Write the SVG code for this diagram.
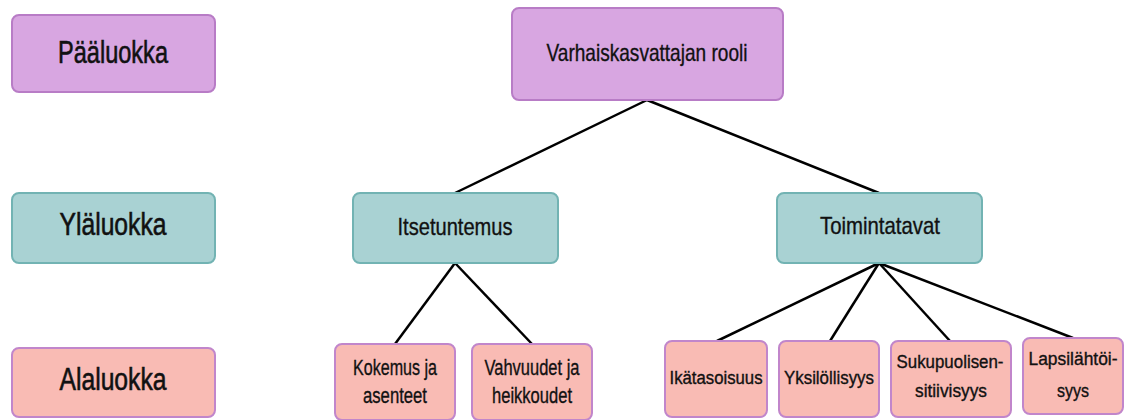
<svg xmlns="http://www.w3.org/2000/svg" width="1124" height="420" viewBox="0 0 1124 420">
<style>
.p{fill:#d8a6e1;stroke:#b87cc6;stroke-width:2}
.t{fill:#a9d2d3;stroke:#72b3b3;stroke-width:2}
.r{fill:#f9bbb4;stroke:#c186cb;stroke-width:2}
text{font-family:"Liberation Sans",Arial,sans-serif;fill:#111;stroke:#111;stroke-width:0.35;text-anchor:middle}
.l{font-size:31px;stroke-width:0.6}
.m{font-size:24px}
.s{font-size:22px}
.x{font-size:18px}
.c{stroke:#000;stroke-width:2.5;fill:none}
</style>
<rect width="1124" height="420" fill="#fff"/>
<g id="legend-paaluokka"><rect class="p" x="12" y="15" width="203" height="77" rx="7"/><text class="l" x="113" y="63" textLength="110" lengthAdjust="spacingAndGlyphs">Pääluokka</text></g>
<g id="legend-ylaluokka"><rect class="t" x="12" y="193" width="203" height="70" rx="7"/><text class="l" x="113" y="235" textLength="107" lengthAdjust="spacingAndGlyphs">Yläluokka</text></g>
<g id="legend-alaluokka"><rect class="r" x="12" y="348" width="203" height="69" rx="7"/><text class="l" x="113" y="390" textLength="107" lengthAdjust="spacingAndGlyphs">Alaluokka</text></g>
<g id="connectors">
<line class="c" x1="647" y1="100" x2="455" y2="193"/>
<line class="c" x1="647" y1="100" x2="879" y2="193"/>
<line class="c" x1="455" y1="263" x2="395" y2="344"/>
<line class="c" x1="455" y1="263" x2="532" y2="344"/>
<line class="c" x1="879" y1="263" x2="717" y2="341"/>
<line class="c" x1="879" y1="263" x2="830" y2="341"/>
<line class="c" x1="879" y1="263" x2="950" y2="341"/>
<line class="c" x1="879" y1="263" x2="1073" y2="338"/>
</g>
<g id="root"><rect class="p" x="512" y="8" width="271" height="92" rx="7"/><text class="m" x="647" y="61" textLength="201" lengthAdjust="spacingAndGlyphs">Varhaiskasvattajan rooli</text></g>
<g id="itsetuntemus"><rect class="t" x="353" y="193" width="205" height="70" rx="7"/><text class="m" x="455" y="235" textLength="115" lengthAdjust="spacingAndGlyphs">Itsetuntemus</text></g>
<g id="toimintatavat"><rect class="t" x="777" y="193" width="205" height="70" rx="7"/><text class="m" x="880" y="234" textLength="120" lengthAdjust="spacingAndGlyphs">Toimintatavat</text></g>
<g id="kokemus"><rect class="r" x="335" y="344" width="120" height="76" rx="7"/><text class="s" x="395" y="375" textLength="84" lengthAdjust="spacingAndGlyphs">Kokemus ja</text><text class="s" x="395" y="403" textLength="64" lengthAdjust="spacingAndGlyphs">asenteet</text></g>
<g id="vahvuudet"><rect class="r" x="472" y="344" width="120" height="76" rx="7"/><text class="s" x="532" y="375" textLength="95" lengthAdjust="spacingAndGlyphs">Vahvuudet ja</text><text class="s" x="532" y="403" textLength="80" lengthAdjust="spacingAndGlyphs">heikkoudet</text></g>
<g id="ikatasoisuus"><rect class="r" x="665" y="341" width="102" height="76" rx="7"/><text class="x" x="716" y="384" textLength="93" lengthAdjust="spacingAndGlyphs">Ikätasoisuus</text></g>
<g id="yksilollisyys"><rect class="r" x="779" y="341" width="100" height="76" rx="7"/><text class="x" x="829" y="384" textLength="90" lengthAdjust="spacingAndGlyphs">Yksilöllisyys</text></g>
<g id="sukupuolisensitiivisyys"><rect class="r" x="891" y="341" width="120" height="76" rx="7"/><text class="x" x="950" y="368" textLength="107" lengthAdjust="spacingAndGlyphs">Sukupuolisen-</text><text class="x" x="951" y="397" textLength="72" lengthAdjust="spacingAndGlyphs">sitiivisyys</text></g>
<g id="lapsilahtoisyys"><rect class="r" x="1023" y="338" width="100" height="76" rx="7"/><text class="x" x="1073" y="365" textLength="89" lengthAdjust="spacingAndGlyphs">Lapsilähtöi-</text><text class="x" x="1073" y="397" textLength="32" lengthAdjust="spacingAndGlyphs">syys</text></g>
</svg>
